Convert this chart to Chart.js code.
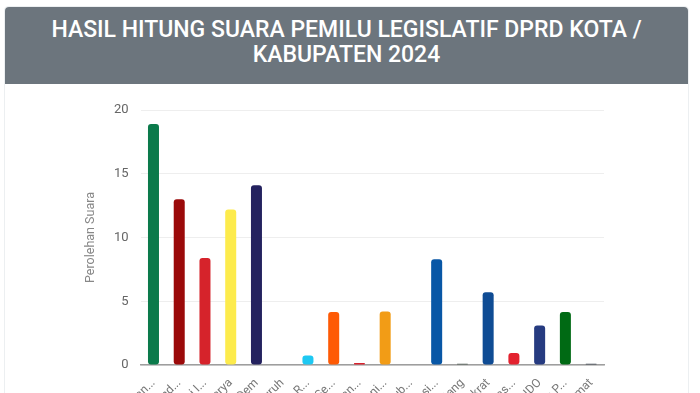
<!DOCTYPE html>
<html>
<head>
<meta charset="utf-8">
<script src="https://cdn.jsdelivr.net/npm/chart.js@4.4.1/dist/chart.umd.min.js"></script>
<style>
  body { margin: 0; background: #fff; font-family: Roboto, sans-serif; overflow: hidden; }
  .card { position: absolute; left: 4px; top: 6px; width: 683px; border: 1px solid #eceff1; border-radius: 4px; background: #fff; }
  .card-header { background: #6c757d; color: #fff; text-align: center; font-size: 23px; font-weight: 500; line-height: 25px; padding: 10px 6px 17px; border-radius: 4px 4px 0 0; }
  .chart-box { position: relative; width: 683px; height: 460px; }
</style>
</head>
<body>
<div class="card">
  <div class="card-header">HASIL HITUNG SUARA PEMILU LEGISLATIF DPRD KOTA /<br>KABUPATEN 2024</div>
  <div class="chart-box"><canvas id="chart"></canvas></div>
</div>
<script>
const parties = [
  'Partai Kebangkitan Bangsa', 'Partai Gerakan Indonesia Raya', 'Partai Demokrasi Indonesia Perjuangan',
  'Golongan Karya', 'Partai NasDem', 'Partai Buruh', 'Partai Gelombang Rakyat Indonesia',
  'Partai Keadilan Sejahtera', 'Partai Kebangkitan Nusantara', 'Partai Hati Nurani Rakyat',
  'Partai Garda Republik Indonesia', 'Partai Amanat Nasional', 'Partai Bulan Bintang',
  'Partai Demokrat', 'Partai Solidaritas Indonesia', 'PERINDO',
  'Partai Persatuan Pembangunan', 'Partai Ummat'
];
const votes = [18.9, 13.0, 8.4, 12.2, 14.1, 0, 0.75, 4.15, 0.15, 4.2, 0, 8.3, 0.1, 5.7, 0.95, 3.1, 4.15, 0.1];
const partyColors = [
  '#0b7a4b', '#9b0a0a', '#d6232b', '#fdeb4c', '#24225f', '#f26b1d', '#1ec8f2',
  '#fe5a05', '#d8222e', '#f29c16', '#3b3b3b', '#0857a6', '#4d5a50',
  '#0f4c94', '#e3222f', '#263b80', '#006a14', '#3f4650'
];
const yTicks = [0, 5, 10, 15, 20];

const ctx = document.getElementById('chart').getContext('2d');

new Chart(ctx, {
  type: 'bar',
  data: {
    labels: parties,
    datasets: [{
      data: votes,
      backgroundColor: partyColors,
      borderRadius: 3,
      borderSkipped: false,
      barPercentage: 0.45,
      categoryPercentage: 0.95
    }]
  },
  options: {
    responsive: true,
    maintainAspectRatio: false,
    animation: false,
    layout: { padding: { left: 74, right: 84, top: 26, bottom: 0 } },
    plugins: { legend: { display: false }, tooltip: { enabled: false } },
    scales: {
      y: {
        min: 0,
        max: 20,
        afterBuildTicks: axis => { axis.ticks = yTicks.map(v => ({ value: v })); },
        ticks: { color: '#666', font: { family: 'Roboto', size: 13 }, padding: 12 },
        grid: { color: '#eeeeee', drawTicks: false },
        border: { display: false },
        title: { display: true, text: 'Perolehan Suara', color: '#888', font: { family: 'Roboto', size: 12.5 } }
      },
      x: {
        afterFit: axis => { axis.height = 179; },
        ticks: {
          color: '#777',
          font: { family: 'Roboto', size: 12 },
          minRotation: 45,
          maxRotation: 45,
          autoSkip: false,
          callback: function (value) {
            const name = this.getLabelForValue(value);
            return name.length > 20 ? name.slice(0, 18) + '...' : name;
          }
        },
        grid: { display: false },
        border: { color: '#9e9e9e', width: 1.5 }
      }
    }
  }
});
</script>
</body>
</html>
